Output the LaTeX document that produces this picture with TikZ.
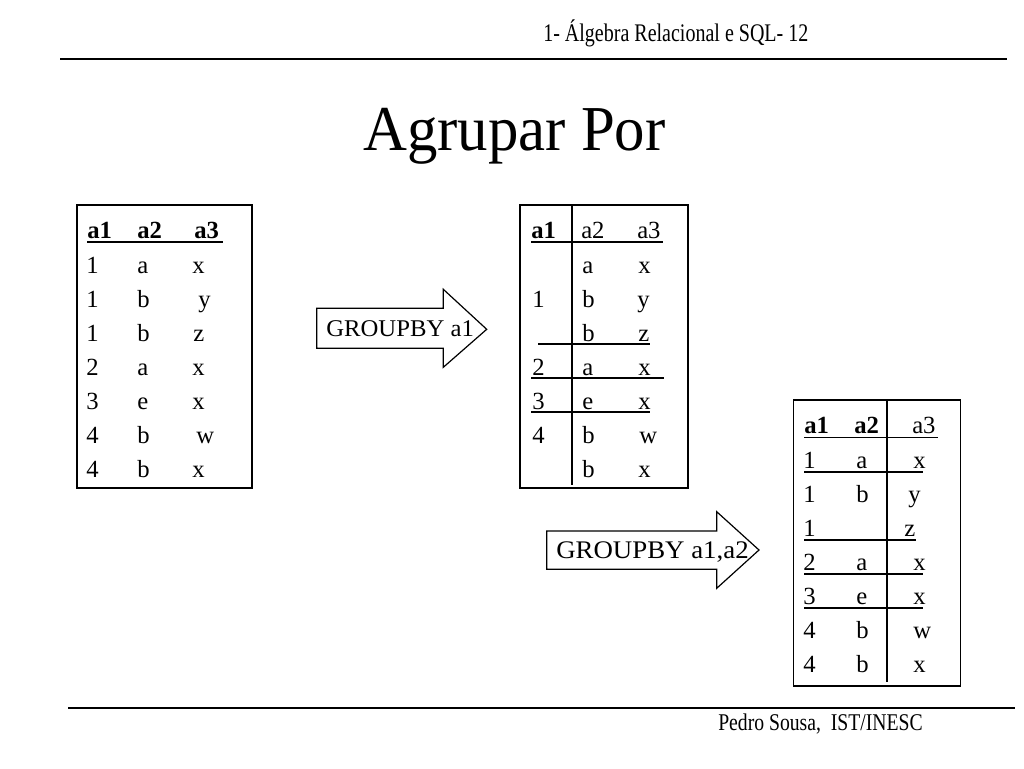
\documentclass[tikz,border=0pt]{standalone}
\usepackage{fontspec}
\setmainfont{Liberation Serif}
\begin{document}
\begin{tikzpicture}[x=0.75pt,y=-0.75pt,
  cell/.style={anchor=base west,inner sep=0pt,font=\rmfamily\fontsize{18.5}{20}\selectfont},
  hcell/.style={cell,font=\rmfamily\fontsize{18.5}{20}\selectfont\bfseries},
  tbox/.style={draw=black,line width=0.9pt},
  rule/.style={line width=0.9pt},
  hrule/.style={line width=1.3pt},
  blockarrow/.style={draw=black,line width=0.9pt,fill=white},
  arrowtext/.style={anchor=base west,inner sep=0pt,font=\rmfamily}]
\useasboundingbox (0,0) rectangle (1024,768);
% header / footer
\node[anchor=base west,inner sep=0pt] (hdr) at (543,41) {\scalebox{0.79}[1]{\fontsize{19}{22}\selectfont 1- Álgebra Relacional e SQL- 12}};
\draw[line width=1.5pt] (60,59) -- (1007,59);
\node[anchor=base west,inner sep=0pt] (title) at (363,150) {\scalebox{0.95}[1]{\fontsize{48}{52}\selectfont Agrupar Por}};
\draw[line width=1.5pt] (68,708) -- (1015,708);
\node[anchor=base west,inner sep=0pt] (ftr) at (718,730) {\scalebox{0.82}[1]{\fontsize{18}{20}\selectfont Pedro Sousa,\ \ IST/INESC}};

% ---------- Table 1 ----------
\draw[tbox] (77,205) rectangle (252,488);
\node[hcell] (ta11) at (87,238) {a1};
\node[hcell] (ta12) at (137,238) {a2};
\node[hcell] (ta13) at (194,238) {a3};
\draw[hrule] (87,242) -- (223,242);
\foreach \i/\a/\b/\c/\cx in {1/1/a/x/192,2/1/b/y/198,3/1/b/z/193,4/2/a/x/192,5/3/e/x/192,6/4/b/w/196,7/4/b/x/192}{
  \pgfmathsetmacro{\yy}{273+34*(\i-1)}
  \node[cell] (ta\i1) at (86,\yy) {\a};
  \node[cell] (ta\i2) at (137,\yy) {\b};
  \node[cell] (ta\i3) at (\cx,\yy) {\c};
}

% ---------- Arrow 1 ----------
\draw[blockarrow] (316.7,308.3) -- (443.3,308.3) -- (443.3,289.3) -- (486.7,329.3) -- (443.3,367.3) -- (443.3,348.3) -- (316.7,348.3) -- cycle;
\node[arrowtext] (g1) at (326,336.5) {\scalebox{1.03}[1]{\fontsize{18}{20}\selectfont GROUPBY a1}};

% ---------- Table 2 ----------
\draw[tbox] (520,205) rectangle (688,488);
\draw[rule] (572,205) -- (572,485);
\node[hcell] (tb01) at (531,238) {a1};
\node[cell] (tb02) at (581,238) {a2};
\node[cell] (tb03) at (637,238) {a3};
\draw[hrule] (531,242) -- (663,242);
\node[cell] (tb12) at (582,273) {a};
\node[cell] (tb13) at (638,273) {x};
\node[cell] (tb21) at (532,307) {1};
\node[cell] (tb22) at (582,307) {b};
\node[cell] (tb23) at (637,307) {y};
\node[cell] (tb32) at (582,341) {b};
\node[cell] (tb33) at (638,341) {z};
\draw[rule] (538,344) -- (650,344);
\node[cell] (tb41) at (532,375) {2};
\node[cell] (tb42) at (582,375) {a};
\node[cell] (tb43) at (638,375) {x};
\draw[rule] (531,378) -- (664,378);
\node[cell] (tb51) at (532,409) {3};
\node[cell] (tb52) at (582,409) {e};
\node[cell] (tb53) at (638,409) {x};
\draw[rule] (531,412) -- (650,412);
\node[cell] (tb61) at (532,443) {4};
\node[cell] (tb62) at (582,443) {b};
\node[cell] (tb63) at (639,443) {w};
\node[cell] (tb72) at (582,477) {b};
\node[cell] (tb73) at (638,477) {x};

% ---------- Arrow 2 ----------
\draw[blockarrow] (546.7,531) -- (716.7,531) -- (716.7,511.7) -- (759,550) -- (716.7,588.3) -- (716.7,569.3) -- (546.7,569.3) -- cycle;
\node[arrowtext] (g2) at (556,558.5) {\scalebox{1.06}[1]{\fontsize{19}{21}\selectfont GROUPBY a1,a2}};

% ---------- Table 3 ----------
\draw[tbox] (793.5,400) rectangle (960.5,686);
\draw[rule] (887,400) -- (887,682);
\node[hcell] (tc01) at (804,433) {a1};
\node[hcell] (tc02) at (854,433) {a2};
\node[cell] (tc03) at (912,433) {a3};
\draw[hrule] (804,437.5) -- (938,437.5);
\foreach \i/\a/\b/\c/\cx in {1/1/a/x/913,2/1/b/y/908,3/1//z/904,4/2/a/x/913,5/3/e/x/913,6/4/b/w/913,7/4/b/x/913}{
  \pgfmathsetmacro{\yy}{468+34*(\i-1)}
  \node[cell] (tc\i1) at (803,\yy) {\a};
  \node[cell] (tc\i2) at (856,\yy) {\b};
  \node[cell] (tc\i3) at (\cx,\yy) {\c};
}
\draw[rule] (804,472) -- (923,472);
\draw[rule] (804,540) -- (916,540);
\draw[rule] (804,574) -- (923,574);
\draw[rule] (804,608) -- (923,608);
\end{tikzpicture}
\end{document}
